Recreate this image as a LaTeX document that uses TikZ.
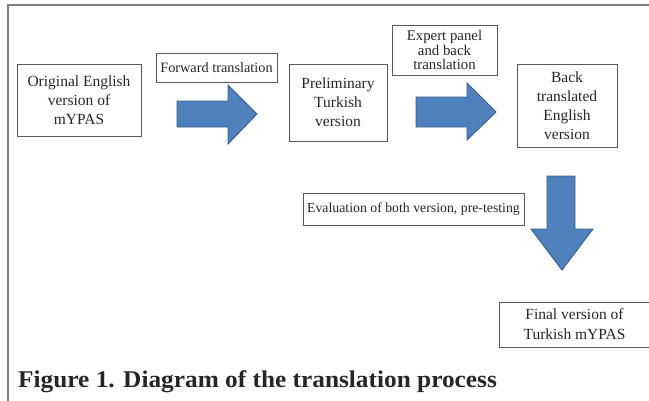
\documentclass[tikz,border=0pt]{standalone}
\usepackage{fontspec}
\setmainfont{Liberation Serif}
\begin{document}
\begin{tikzpicture}[x=1pt,y=-1pt]
\definecolor{arrowfill}{HTML}{4F81BD}
\definecolor{arrowline}{HTML}{385D8A}
\tikzset{
  box/.style={draw=black!65,line width=0.8pt,rectangle,inner sep=0pt,align=center,text=black!85,
    font=\fontsize{15.5}{19}\selectfont},
  blockarrow/.style={fill=arrowfill,draw=arrowline,line width=0.9pt,line join=miter},
  frameline/.style={draw=black!50,line width=1.4pt}}
\useasboundingbox (0,0) rectangle (649,400);
\clip (0,0) rectangle (649,400);
% outer frame
\coordinate (fa) at (8,402);
\coordinate (fb) at (8,5);
\coordinate (fc) at (652,5);
\draw[frameline] (fa) -- (fb) -- (fc);
% boxes
\node[box,minimum width=124,minimum height=72] (orig) at (79,100) {Original English\\version of\\mYPAS};
\node[box,minimum width=121,minimum height=29,font=\fontsize{14.3}{15}\selectfont] (fwd) at (216.5,67.5) {Forward translation};
\node[box,minimum width=98,minimum height=77] (prel) at (338,102.5) {Preliminary\\Turkish\\version};
\node[box,minimum width=105,minimum height=50,font=\fontsize{14.8}{14.2}\selectfont] (exp) at (444.5,50) {Expert panel\\and back\\translation};
\node[box,minimum width=100,minimum height=83] (back) at (567,105.5) {Back\\translated\\English\\version};
\node[box,minimum width=221,minimum height=32,font=\fontsize{13.8}{15}\selectfont] (eval) at (413.5,209) {Evaluation of both version, pre-testing};
\node[box,minimum width=151,minimum height=45,font=\fontsize{15.5}{20}\selectfont] (final) at (574.5,324.5) {Final version of\\Turkish mYPAS};
% block arrows
\draw[blockarrow] (177,101) -- (228,101) -- (228,85) -- (257,114) -- (228,144) -- (228,127) -- (177,127) -- cycle;
\draw[blockarrow] (416,97) -- (467,97) -- (467,83) -- (496,112) -- (467,140) -- (467,127) -- (416,127) -- cycle;
\draw[blockarrow] (547,176) -- (575,176) -- (575,229) -- (593,229) -- (562,270) -- (531,229) -- (547,229) -- cycle;
% caption
\node[anchor=base west,inner sep=0pt,font=\fontsize{24}{27}\bfseries\selectfont,text=black!85] (cap) at (18,387) {\scalebox{1.055}[1]{Figure 1. Diagram of the translation process}};
\end{tikzpicture}
\end{document}
